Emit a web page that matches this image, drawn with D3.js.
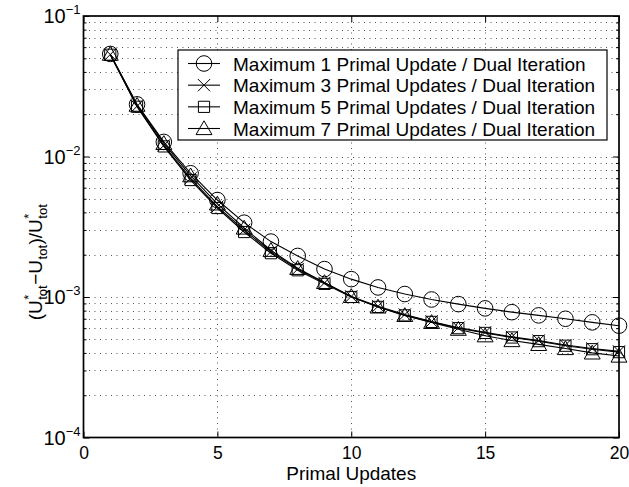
<!DOCTYPE html>
<html>
<head>
<meta charset="utf-8">
<script src="https://cdn.jsdelivr.net/npm/d3@7"></script>
<style>
  body { margin: 0; background: #fff; }
  svg { display: block; font-family: "Liberation Sans", Arial, Helvetica, sans-serif; }
</style>
</head>
<body>
<svg id="chart" width="629" height="487"></svg>
<script>
// ---- data ----
const primalUpdates = [1,2,3,4,5,6,7,8,9,10,11,12,13,14,15,16,17,18,19,20];
const max1 = [0.0537,0.0235,0.0127,0.0076,0.0049,0.00338,0.00248,0.00196,0.00158,0.00134,0.00117,0.00105,0.00096,0.00089,0.00083,0.00078,0.00074,0.00070,0.00066,0.000625];
const max3 = [0.0532,0.0228,0.0120,0.0070,0.0044,0.0030,0.00210,0.00158,0.00126,0.00101,0.00086,0.00075,0.00067,0.000605,0.00056,0.00052,0.00049,0.000455,0.00043,0.00041];
const max5 = [0.0530,0.0226,0.0118,0.0068,0.0043,0.0029,0.00205,0.00155,0.00124,0.00100,0.00085,0.00074,0.000665,0.00060,0.000555,0.000515,0.000485,0.00045,0.000425,0.000405];
const max7 = [0.0535,0.0232,0.0124,0.0073,0.0046,0.0031,0.00215,0.00160,0.00127,0.00101,0.00085,0.00074,0.00066,0.00059,0.00053,0.00049,0.00046,0.00043,0.00040,0.00038];
const seriesNames = ["Maximum 1 Primal Update / Dual Iteration","Maximum 3 Primal Updates / Dual Iteration","Maximum 5 Primal Updates / Dual Iteration","Maximum 7 Primal Updates / Dual Iteration"];
const seriesMarkers = ["circle","cross","square","triangle"];
const xTicks = [0,5,10,15,20];
const yExponents = [-1,-2,-3,-4];
const xLabel = "Primal Updates";

const series = [max1,max3,max5,max7].map((vals,i)=>({name:seriesNames[i], marker:seriesMarkers[i], values:vals}));

// ---- layout ----
const svg = d3.select("#chart");
const L = 83.5, R = 619, T = 16, B = 437.5;
const FS = 19, TFS = 17.5;
const x = d3.scaleLinear().domain([0,20]).range([L,R]);
const y = d3.scaleLog().domain([1e-4,1e-1]).range([B,T]);

const yMajor = yExponents.map(e=>Math.pow(10,e));
const yAll = y.ticks();
const yMinor = yAll.filter(v=>!yMajor.some(m=>Math.abs(m-v)/m<1e-6));

// grid
const grid = svg.append("g").attr("stroke","#555").attr("stroke-width",1).attr("stroke-dasharray","1,4.5");
grid.selectAll("line.h").data(yAll.filter(v=>v>1e-4*1.001 && v<1e-1*0.999)).enter().append("line")
  .attr("x1",L).attr("x2",R).attr("y1",d=>Math.round(y(d))+0.5).attr("y2",d=>Math.round(y(d))+0.5);
grid.selectAll("line.v").data(xTicks.filter(v=>v>0&&v<20)).enter().append("line")
  .attr("y1",T).attr("y2",B).attr("x1",d=>Math.round(x(d))+0.5).attr("x2",d=>Math.round(x(d))+0.5);

// axes with inward ticks
const axB = svg.append("g").attr("transform",`translate(0,${B})`)
  .call(d3.axisBottom(x).tickValues(xTicks).tickSize(-6).tickFormat(d3.format("d")));
const axT = svg.append("g").attr("transform",`translate(0,${T})`)
  .call(d3.axisTop(x).tickValues(xTicks).tickSize(-6).tickFormat(""));
const axL = svg.append("g").attr("transform",`translate(${L},0)`)
  .call(d3.axisLeft(y).tickValues(yMajor).tickSize(-6).tickFormat(""));
const axLm = svg.append("g").attr("transform",`translate(${L},0)`)
  .call(d3.axisLeft(y).tickValues(yMinor).tickSize(-3).tickFormat(""));
const axR = svg.append("g").attr("transform",`translate(${R},0)`)
  .call(d3.axisRight(y).tickValues(yMajor).tickSize(-6).tickFormat(""));
const axRm = svg.append("g").attr("transform",`translate(${R},0)`)
  .call(d3.axisRight(y).tickValues(yMinor).tickSize(-3).tickFormat(""));
[axB,axT,axL,axLm,axR,axRm].forEach(a=>{
  a.selectAll(".domain").remove();
  a.selectAll("line").attr("stroke","#000").attr("stroke-width",1);
});
axB.selectAll("text").attr("font-size",TFS).attr("fill","#000").attr("y",9).attr("dy","0.71em")
  .attr("font-family","Liberation Sans, Arial, sans-serif");

// y tick labels with superscripts
const yl = svg.append("g");
yMajor.forEach((v,i)=>{
  const t = yl.append("text").attr("x",L-3).attr("y",y(v)+7).attr("text-anchor","end")
    .attr("font-size",20).attr("fill","#000");
  t.append("tspan").text("10");
  t.append("tspan").attr("dy",-9).attr("font-size",13).text("\u2212"+Math.abs(yExponents[i]));
});

// frame
svg.append("rect").attr("x",L).attr("y",T).attr("width",R-L).attr("height",B-T)
  .attr("fill","none").attr("stroke","#000").attr("stroke-width",1.7);

// markers
const symGen = {
  circle: d3.symbol().type(d3.symbolCircle).size(Math.PI*7.8*7.8),
  cross: d3.symbol().type(d3.symbolX).size(100),
  square: d3.symbol().type(d3.symbolSquare).size(125),
  triangle: d3.symbol().type(d3.symbolTriangle).size(110)
};
const line = d3.line().x((d,i)=>x(primalUpdates[i])).y(d=>y(d));
const plot = svg.append("g");
series.forEach(s=>{
  plot.append("path").attr("d",line(s.values)).attr("fill","none").attr("stroke","#000").attr("stroke-width",1.1);
});
series.forEach(s=>{
  plot.selectAll(null).data(s.values).enter().append("path")
    .attr("d",symGen[s.marker]())
    .attr("transform",(d,i)=>`translate(${x(primalUpdates[i])},${y(d) + (s.marker==="triangle"?1.5:0)})`)
    .attr("fill","none").attr("stroke","#000").attr("stroke-width",1);
});

// legend
const lg = svg.append("g");
const lgX = 178, lgY = 50, lgW = 429, lgH = 90;
lg.append("rect").attr("x",lgX).attr("y",lgY).attr("width",lgW).attr("height",lgH)
  .attr("fill","#fff").attr("stroke","#000").attr("stroke-width",1.2);
const rowY = d3.scaleLinear().domain([0,3]).range([lgY+13.5, lgY+78.5]);
series.forEach((s,i)=>{
  const cy = rowY(i);
  lg.append("line").attr("x1",lgX+10).attr("x2",lgX+42).attr("y1",cy).attr("y2",cy)
    .attr("stroke","#000").attr("stroke-width",1.1);
  lg.append("path").attr("d",symGen[s.marker]())
    .attr("transform",`translate(${lgX+26},${cy + (s.marker==="triangle"?1.5:0)})`)
    .attr("fill","none").attr("stroke","#000").attr("stroke-width",1);
  lg.append("text").attr("x",lgX+55).attr("y",cy+7).attr("font-size",FS).attr("fill","#000").text(s.name);
});

// x label
svg.append("text").attr("x",(L+R)/2).attr("y",480).attr("text-anchor","middle")
  .attr("font-size",FS).attr("fill","#000").text(xLabel);

// y label: (U*_tot − U_tot)/U*_tot
const ylab = svg.append("g");
const pieces = [
  {main:"(U", sup:"*", sub:"tot"},
  {main:"\u2212U", sub:"tot"},
  {main:")/U", sup:"*", sub:"tot"}
];
let cx = 0;
const inner = ylab.append("g");
pieces.forEach(p=>{
  const m = inner.append("text").attr("x",cx).attr("y",0).attr("font-size",FS).text(p.main);
  cx += m.node().getComputedTextLength() + 0.5;
  let w = 0;
  if (p.sup) {
    const s = inner.append("text").attr("x",cx).attr("y",-9).attr("font-size",13).text(p.sup);
    w = Math.max(w, s.node().getComputedTextLength());
  }
  if (p.sub) {
    const s = inner.append("text").attr("x",cx).attr("y",5).attr("font-size",13).text(p.sub);
    w = Math.max(w, s.node().getComputedTextLength());
  }
  cx += w + 0.5;
});
inner.attr("transform",`translate(${-cx/2},0)`);
ylab.attr("transform",`translate(42,262) rotate(-90)`);
</script>
</body>
</html>
